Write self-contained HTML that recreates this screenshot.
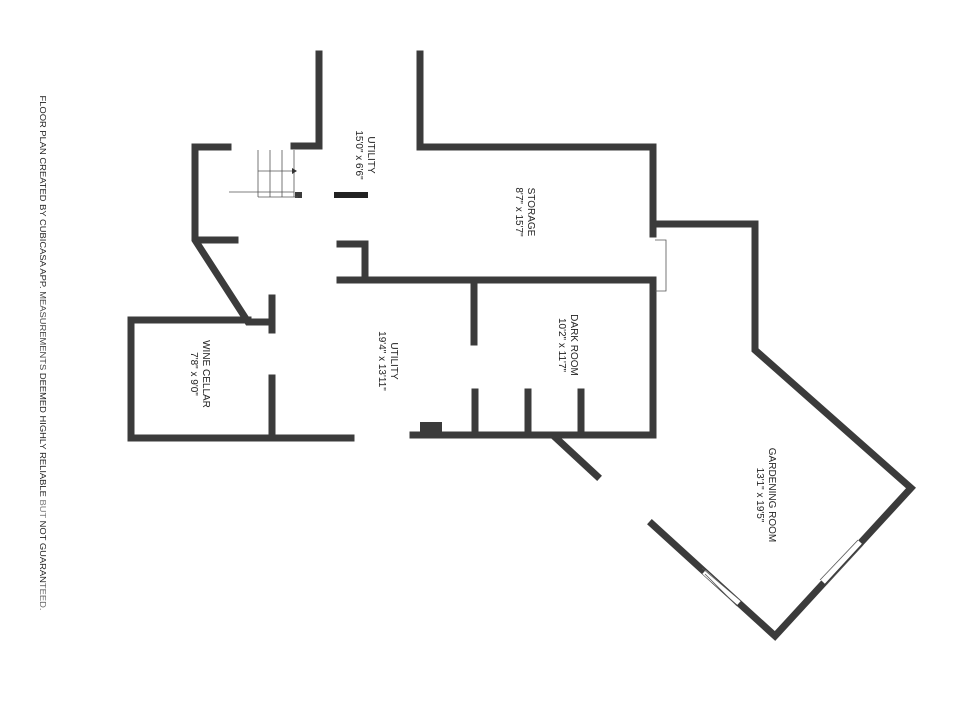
<!DOCTYPE html>
<html><head><meta charset="utf-8"><style>
html,body{margin:0;padding:0;background:#fff;width:960px;height:720px;overflow:hidden}
svg{display:block}
text{font-family:"Liberation Sans",sans-serif;fill:#222}
</style></head><body>
<svg width="960" height="720" viewBox="0 0 960 720" xmlns="http://www.w3.org/2000/svg">
<g fill="none" stroke="#3b3b3b" stroke-width="7" stroke-linejoin="miter" stroke-linecap="square">
<!-- upper utility -->
<polyline points="319,54 319,146 294,146"/>
<polyline points="420,54 420,147 653,147 653,234"/>
<polyline points="653,224 755,224 755,350 911,488 775,636 652,524"/>
<!-- storage bottom / dark room -->
<polyline points="340,244 365,244 365,280"/>
<polyline points="340,280 653,280 653,435 413,435"/>
<line x1="474" y1="283" x2="474" y2="342"/>
<line x1="475" y1="392" x2="475" y2="433"/>
<line x1="528" y1="392" x2="528" y2="433"/>
<line x1="581" y1="392" x2="581" y2="433"/>
<line x1="556" y1="438" x2="597" y2="476"/>
<!-- left -->
<polyline points="228,147 195,147 195,240 248,322 270,322"/>
<line x1="198" y1="240" x2="235" y2="240"/>
<line x1="272" y1="298" x2="272" y2="330"/>
<polyline points="248,320 131,320 131,438 351,438"/>
<line x1="272" y1="378" x2="272" y2="434"/>
</g>
<rect x="420" y="422" width="22" height="15" fill="#3b3b3b"/>
<rect x="334" y="192" width="34" height="6" fill="#222"/>
<rect x="295" y="192" width="7" height="6" fill="#3b3b3b"/>
<!-- windows -->
<g stroke="#fff" stroke-width="5">
<line x1="704" y1="572" x2="739" y2="603"/>
<line x1="823" y1="582" x2="860" y2="542"/>
</g>
<g stroke="#555" stroke-width="0.8" fill="none">
<line x1="702" y1="568" x2="741" y2="601"/>
<line x1="705" y1="574" x2="737" y2="606"/>
<line x1="820" y1="580" x2="858" y2="540"/>
<line x1="826" y1="585" x2="863" y2="545"/>
<!-- door swing -->
<polyline points="655,240 666,240 666,291 655,291"/>
<!-- stairs -->
<line x1="258" y1="150" x2="258" y2="197"/>
<line x1="270" y1="150" x2="270" y2="197"/>
<line x1="282" y1="150" x2="282" y2="197"/>
<line x1="294" y1="150" x2="294" y2="197"/>
<line x1="258" y1="171" x2="292" y2="171"/>
<line x1="258" y1="197" x2="298" y2="197"/>
<line x1="229" y1="192" x2="294" y2="192"/>
</g>
<polygon points="292,168 297,171 292,174" fill="#333"/>
<g font-size="10" text-anchor="middle">
<text transform="translate(368,155) rotate(90)"><tspan x="0" y="0">UTILITY</tspan><tspan x="0" y="12">15'0" x 6'6"</tspan></text>
<text transform="translate(528,212) rotate(90)"><tspan x="0" y="0">STORAGE</tspan><tspan x="0" y="12">8'7" x 15'7"</tspan></text>
<text transform="translate(571,345) rotate(90)"><tspan x="0" y="0">DARK ROOM</tspan><tspan x="0" y="12">10'2" x 11'7"</tspan></text>
<text transform="translate(391,361) rotate(90)"><tspan x="0" y="0">UTILITY</tspan><tspan x="0" y="12">19'4" x 13'11"</tspan></text>
<text transform="translate(203,374) rotate(90)"><tspan x="0" y="0">WINE CELLAR</tspan><tspan x="0" y="12">7'8" x 9'0"</tspan></text>
<text transform="translate(769,495) rotate(90)"><tspan x="0" y="0">GARDENING ROOM</tspan><tspan x="0" y="12">13'1" x 19'5"</tspan></text>
</g>
<text transform="translate(40,353) rotate(90)" font-size="8" text-anchor="middle" fill="#bbb" textLength="515" lengthAdjust="spacingAndGlyphs">FLOOR PLAN CREATED BY CUBICASA APP. <tspan fill="#444">MEASUREMENTS</tspan> DEEMED HIGHLY RELIABLE <tspan fill="#777">BUT</tspan> NOT GUARAN<tspan fill="#666">TEED.</tspan></text>
</svg>
</body></html>
